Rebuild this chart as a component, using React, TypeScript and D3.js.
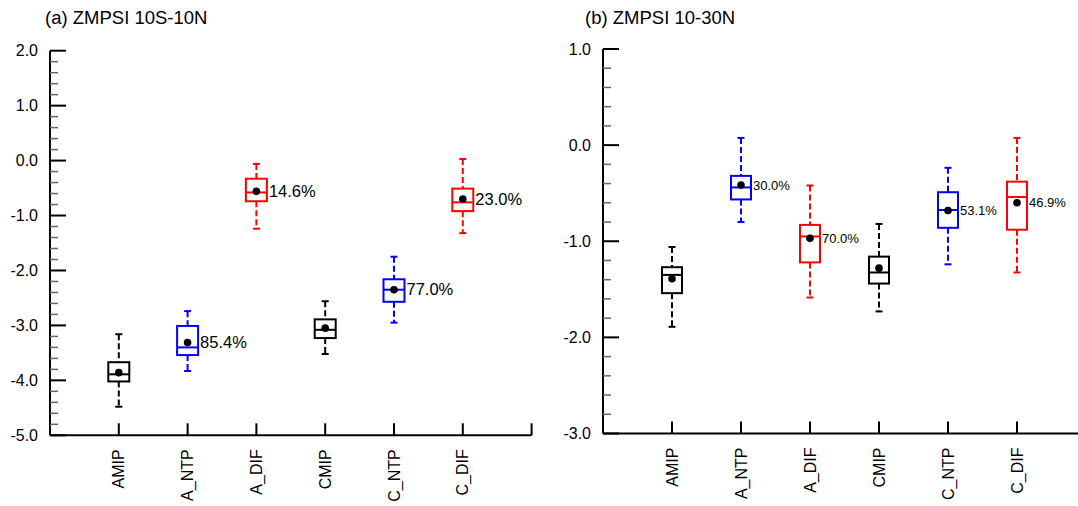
import React from 'react'
import * as d3 from 'd3'

const categories = ['AMIP', 'A_NTP', 'A_DIF', 'CMIP', 'C_NTP', 'C_DIF']
const boxColors = ['#000000', '#0000ff', '#ff0000', '#000000', '#0000ff', '#ff0000']

// [min, q1, median, q3, max, mean]
const statsA = [
  [-4.48, -4.02, -3.89, -3.67, -3.16, -3.86],
  [-3.83, -3.54, -3.40, -3.01, -2.74, -3.31],
  [-1.24, -0.74, -0.58, -0.33, -0.06, -0.56],
  [-3.52, -3.23, -3.08, -2.89, -2.56, -3.05],
  [-2.95, -2.57, -2.35, -2.16, -1.75, -2.35],
  [-1.32, -0.92, -0.76, -0.51, 0.03, -0.70],
]
const pctA = ['', '85.4%', '14.6%', '', '77.0%', '23.0%']

const statsB = [
  [-1.89, -1.54, -1.35, -1.27, -1.06, -1.39],
  [-0.80, -0.565, -0.44, -0.32, 0.075, -0.416],
  [-1.585, -1.22, -0.95, -0.83, -0.42, -0.97],
  [-1.73, -1.44, -1.325, -1.16, -0.82, -1.28],
  [-1.24, -0.86, -0.675, -0.49, -0.236, -0.68],
  [-1.325, -0.88, -0.54, -0.38, 0.075, -0.60],
]
const pctB = ['', '30.0%', '70.0%', '', '53.1%', '46.9%']

const ticksA = [2, 1, 0, -1, -2, -3, -4, -5]
const ticksB = [1, 0, -1, -2, -3]

const FONT = '"Liberation Sans", Arial, Helvetica, sans-serif'

type PanelProps = {
  title: string
  titleX: number
  x0: number
  step: number
  y0: number
  y1: number
  domain: [number, number]
  majors: number[]
  stats: number[][]
  pct: string[]
  pctSize: number
  boxW: number
}

function Panel({ title, titleX, x0, step, y0, y1, domain, majors, stats, pct, pctSize, boxW }: PanelProps) {
  const x = d3.scaleLinear().domain([0, 7]).range([x0, x0 + 7 * step])
  const y = d3.scaleLinear().domain(domain).range([y1, y0])
  const minors = d3.range(Math.round(domain[0] * 5), Math.round(domain[1] * 5) + 1)
    .map(d => d / 5)
    .filter(d => Math.abs(d - Math.round(d)) > 1e-6)
  const xEnd = Math.min(x(7), 1078)

  return (
    <g>
      <text x={titleX} y={24} fontSize={18.5} fontFamily={FONT}>{title}</text>
      {/* y axis */}
      <line x1={x0} x2={x0} y1={y(domain[1])} y2={y(domain[0])} stroke="#000" strokeWidth={2} />
      {majors.map(t => (
        <g key={t}>
          <line x1={x0} x2={x0 + 16} y1={y(t)} y2={y(t)} stroke="#000" strokeWidth={2} />
          <text x={x0 - 12} y={y(t)} dy="0.35em" textAnchor="end" fontSize={16} fontFamily={FONT}>
            {t.toFixed(1)}
          </text>
        </g>
      ))}
      {minors.map(t => (
        <line key={t} x1={x0} x2={x0 + 8} y1={y(t)} y2={y(t)} stroke="#666" strokeWidth={1.5} />
      ))}
      {/* x axis */}
      <line x1={x0} x2={xEnd} y1={y(domain[0])} y2={y(domain[0])} stroke="#000" strokeWidth={2} />
      {d3.range(1, 8).map(i => (
        <line key={i} x1={x(i)} x2={x(i)} y1={y(domain[0])} y2={y(domain[0]) - 12} stroke="#000" strokeWidth={2} />
      ))}
      {categories.map((c, i) => (
        <text key={c} transform={`translate(${x(i + 1)},${y(domain[0]) + 14}) rotate(-90)`}
          dy="0.35em" textAnchor="end" fontSize={16} fontFamily={FONT}>{c}</text>
      ))}
      {/* boxes */}
      {stats.map((s, i) => {
        const [mn, q1, md, q3, mx, mean] = s
        const cx = x(i + 1)
        const col = boxColors[i]
        return (
          <g key={i}>
            <line x1={cx} x2={cx} y1={y(mx)} y2={y(q3)} stroke={col} strokeWidth={2} strokeDasharray="6,3" />
            <line x1={cx} x2={cx} y1={y(q1)} y2={y(mn)} stroke={col} strokeWidth={2} strokeDasharray="6,3" />
            <line x1={cx - 3.5} x2={cx + 3.5} y1={y(mx)} y2={y(mx)} stroke={col} strokeWidth={2} />
            <line x1={cx - 3.5} x2={cx + 3.5} y1={y(mn)} y2={y(mn)} stroke={col} strokeWidth={2} />
            <rect x={cx - boxW / 2} y={y(q3)} width={boxW} height={y(q1) - y(q3)} fill="none" stroke={col} strokeWidth={2} />
            <line x1={cx - boxW / 2} x2={cx + boxW / 2} y1={y(md)} y2={y(md)} stroke={col} strokeWidth={2} />
            <circle cx={cx} cy={y(mean)} r={3.8} fill="#000" />
            {pct[i] && (
              <text x={cx + boxW / 2 + 2} y={y(mean)} dy="0.35em" fontSize={pctSize} fontFamily={FONT}>{pct[i]}</text>
            )}
          </g>
        )
      })}
    </g>
  )
}

export default function App() {
  return (
    <svg width={1078} height={506} style={{ position: 'absolute', left: 0, top: 0, background: '#fff' }}>
      <rect width={1078} height={506} fill="#fff" />
      <Panel title="(a) ZMPSI 10S-10N" titleX={45} x0={50} step={68.8} y0={50.7} y1={435.3}
        domain={[-5, 2]} majors={ticksA} stats={statsA} pct={pctA} pctSize={16.5} boxW={21} />
      <Panel title="(b) ZMPSI 10-30N" titleX={585} x0={603} step={69} y0={49} y1={433.5}
        domain={[-3, 1]} majors={ticksB} stats={statsB} pct={pctB} pctSize={13} boxW={20} />
    </svg>
  )
}
